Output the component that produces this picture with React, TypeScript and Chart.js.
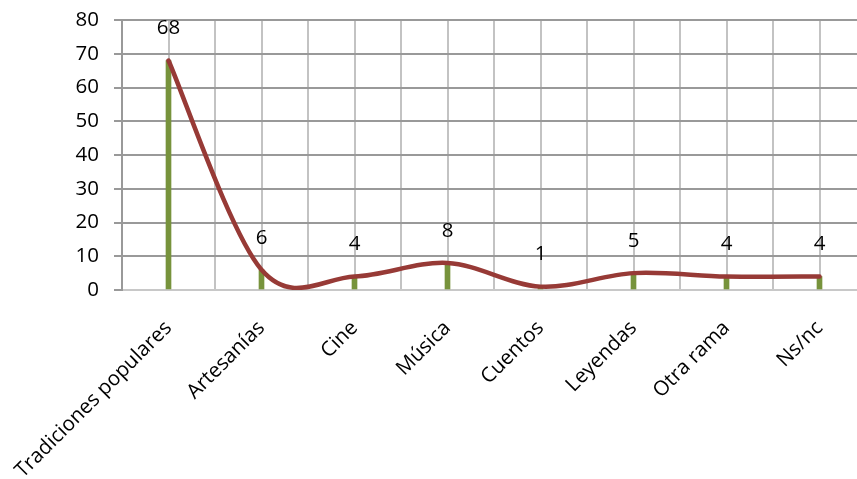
import React, { useEffect, useRef } from "react";
import { Chart, registerables } from "chart.js";

Chart.register(...registerables);

const categories: string[] = [
  "Tradiciones populares",
  "Artesanías",
  "Cine",
  "Música",
  "Cuentos",
  "Leyendas",
  "Otra rama",
  "Ns/nc",
];
const values: number[] = [68, 6, 4, 8, 1, 5, 4, 4];
const yTicks: number[] = [0, 10, 20, 30, 40, 50, 60, 70, 80];

const FONT = "'Open Sans', sans-serif";
const FSIZE = 20.5;

export default function App() {
  const ref = useRef<HTMLCanvasElement | null>(null);

  useEffect(() => {
    if (!ref.current) return;
    const labelPlugin = {
      id: "valueLabels",
      beforeDatasetDraw(chart: any, args: any) {
        if (args.index !== 0) return;
        const meta = chart.getDatasetMeta(0);
        const line = meta.dataset;
        line.updateControlPoints(chart.chartArea, "x");
        const pts = meta.data;
        const n = pts.length;
        for (let i = 0; i < n; i++) {
          const p = pts[i];
          const prev = pts[Math.max(0, i - 1)];
          const next = pts[Math.min(n - 1, i + 1)];
          const mx = (next.x - prev.x) / 6;
          const my = (next.y - prev.y) / 6;
          p.cp1x = p.x - mx;
          p.cp1y = p.y - my;
          p.cp2x = p.x + mx;
          p.cp2y = p.y + my;
        }
      },
      afterDatasetsDraw(chart: any) {
        const meta = chart.getDatasetMeta(0);
        const ctx = chart.ctx;
        ctx.save();
        ctx.font = `${FSIZE}px ${FONT}`;
        ctx.fillStyle = "#000";
        ctx.textAlign = "center";
        ctx.textBaseline = "middle";
        meta.data.forEach((pt: any, i: number) => {
          ctx.fillText(String(values[i]), pt.x, pt.y - 32);
        });
        ctx.restore();
      },
    };
    const chart = new Chart(ref.current, {
      type: "line",
      data: {
        datasets: [
          {
            type: "line",
            data: values.map((v, i) => ({ x: i, y: v })),
            borderColor: "#973a36",
            borderWidth: 4.5,
            borderCapStyle: "round",
            pointRadius: 0,
            tension: 0.4,
            order: 0,
          } as any,
          {
            type: "bar",
            data: values.map((v, i) => ({ x: i, y: v })),
            backgroundColor: "#77933C",
            barThickness: 5,
            order: 1,
          } as any,
        ],
      },
      plugins: [labelPlugin],
      options: {
        responsive: false,
        animation: false,
        devicePixelRatio: 1,
        layout: { padding: { top: 20, left: 0, right: 0, bottom: 0 } },
        plugins: { legend: { display: false }, tooltip: { enabled: false } },
        scales: {
          x: {
            type: "linear",
            min: -0.5,
            max: 7.5,
            offset: false,
            afterFit: (s: any) => {
              s.height = 189;
              s.paddingLeft = 0;
              s.paddingRight = 0;
            },
            afterBuildTicks: (s: any) => {
              const t = [];
              for (let v = -0.5; v <= 7.5001; v += 0.5) t.push({ value: v });
              s.ticks = t;
            },
            grid: {
              color: "#c3c3c3",
              lineWidth: 2,
              drawTicks: false,
              offset: false,
            },
            border: { color: "#c8c8c8", width: 2 },
            ticks: {
              autoSkip: false,
              minRotation: 45,
              maxRotation: 45,
              padding: 26,
              color: "#000",
              font: { family: FONT, size: FSIZE },
              callback: (v: any) =>
                Number.isInteger(v) ? categories[v] : "",
            },
          },
          y: {
            min: 0,
            max: 80,
            afterFit: (s: any) => {
              s.width = 122;
              s.paddingTop = 0;
              s.paddingBottom = 0;
            },
            afterBuildTicks: (s: any) => {
              s.ticks = yTicks.map((v) => ({ value: v }));
            },
            grid: {
              color: "#999999",
              lineWidth: 2,
              tickLength: 8,
            },
            border: { color: "#999999", width: 2 },
            ticks: {
              padding: 15,
              color: "#000",
              font: { family: FONT, size: FSIZE },
            },
          },
        },
      },
    } as any);
    return () => chart.destroy();
  }, []);

  return (
    <div
      style={{
        position: "fixed",
        left: 0,
        top: 0,
        width: 857,
        height: 479,
        overflow: "hidden",
        background: "#fff",
      }}
    >
      <canvas ref={ref} width={866} height={479} style={{ display: "block" }} />
    </div>
  );
}
